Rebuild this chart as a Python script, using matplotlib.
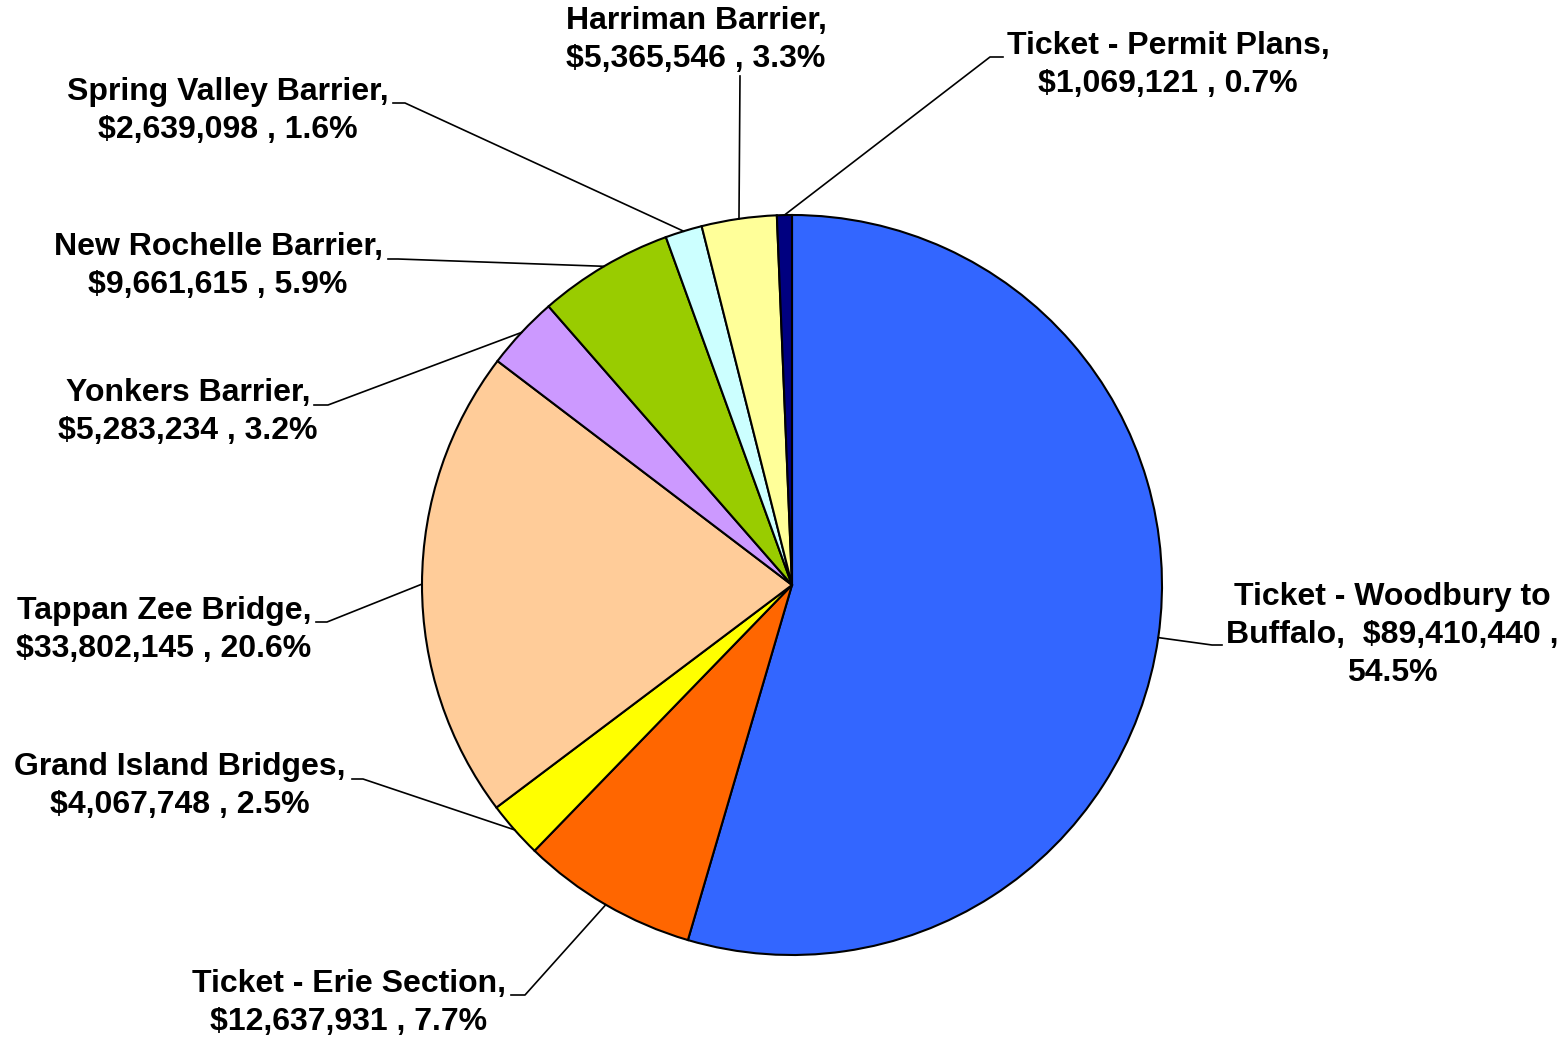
import matplotlib
matplotlib.use("Agg")
import matplotlib.pyplot as plt
import numpy as np

# 料金収入の内訳データ
names = ["Ticket - Woodbury to Buffalo", "Ticket - Erie Section", "Grand Island Bridges",
         "Tappan Zee Bridge", "Yonkers Barrier", "New Rochelle Barrier",
         "Spring Valley Barrier", "Harriman Barrier", "Ticket - Permit Plans"]
amounts = [89410440, 12637931, 4067748, 33802145, 5283234, 9661615, 2639098, 5365546, 1069121]
shares = [54.5, 7.7, 2.5, 20.6, 3.2, 5.9, 1.6, 3.3, 0.7]
labels = [
    "Ticket - Woodbury to\nBuffalo,  $89,410,440 ,\n54.5%",
    "Ticket - Erie Section,\n$12,637,931 , 7.7%",
    "Grand Island Bridges,\n$4,067,748 , 2.5%",
    "Tappan Zee Bridge,\n$33,802,145 , 20.6%",
    "Yonkers Barrier,\n$5,283,234 , 3.2%",
    "New Rochelle Barrier,\n$9,661,615 , 5.9%",
    "Spring Valley Barrier,\n$2,639,098 , 1.6%",
    "Harriman Barrier,\n$5,365,546 , 3.3%",
    "Ticket - Permit Plans,\n$1,069,121 , 0.7%",
]
colors = ["#3366FF", "#FF6600", "#FFFF00", "#FFCC99", "#CC99FF",
          "#99CC00", "#CCFFFF", "#FFFF99", "#000080"]

# レイアウト（ピクセル座標、上から）
W, H = 1566, 1039
cx, cy, R = 792, 585, 370
text_pos = [(1392, 635), (349, 1003), (180, 786), (164, 630), (188, 412),
            (218, 266), (228, 111), (696, 40), (1168, 65)]
elbow = [(1212, 645), (525, 995), (363, 779), (327, 622), (328, 405),
         (398, 259), (405, 103), (740, 76), (990, 57)]
line_end = [(1222, 645), (511, 995), (352, 779), (316, 622), (314, 405),
            (388, 259), (393, 103), (740, 76), (1003, 57)]

fig = plt.figure(figsize=(W / 100, H / 100), dpi=100)
ax = fig.add_axes([0, 0, 1, 1])

wedges, _ = ax.pie(amounts, colors=colors, startangle=90, counterclock=False,
                   center=(cx, H - cy), radius=R,
                   wedgeprops=dict(edgecolor="black", linewidth=1.5))

# 引き出し線とラベル
for w, lab, tp, el, en in zip(wedges, labels, text_pos, elbow, line_end):
    ang = np.deg2rad((w.theta1 + w.theta2) / 2)
    sx = cx + R * np.cos(ang)
    sy = (H - cy) + R * np.sin(ang)
    ax.plot([sx, el[0], en[0]], [sy, H - el[1], H - en[1]], color="black", lw=1.2)
    ax.text(tp[0], H - tp[1], lab, ha="center", va="center", multialignment="center",
            fontsize=23, fontweight="bold", family=["Liberation Sans", "DejaVu Sans"],
            linespacing=1.36)

ax.set_xlim(0, W)
ax.set_ylim(0, H)
ax.set_aspect("auto")
ax.axis("off")

fig.savefig("out.png", dpi=100, facecolor="white")
